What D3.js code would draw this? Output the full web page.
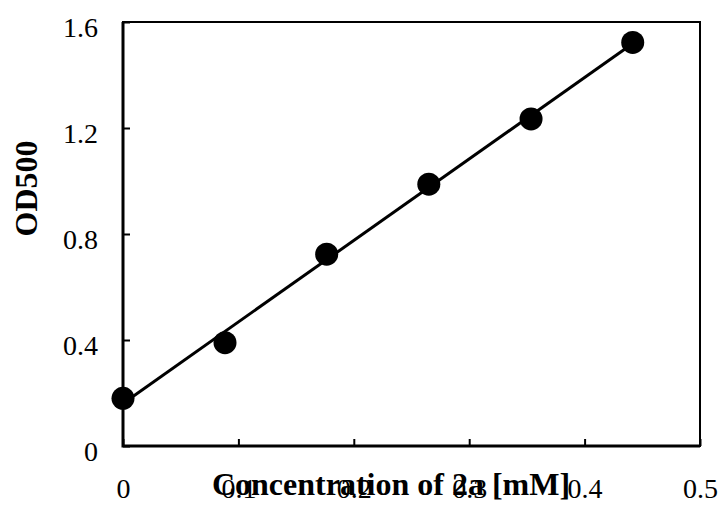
<!DOCTYPE html>
<html>
<head>
<meta charset="utf-8">
<script src="https://cdn.jsdelivr.net/npm/d3@7"></script>
<style>
  body { margin: 0; background: #fff; }
  svg { display: block; font-family: "Liberation Serif", "Times New Roman", serif; }
  .tick text { font-size: 28px; fill: #000; }
  .tick line { stroke: #000; stroke-width: 2; }
</style>
</head>
<body>
<svg width="723" height="506"></svg>
<script>
// measured concentrations (mM) and absorbance
const conc = [0, 0.0884, 0.1765, 0.265, 0.3536, 0.4417];
const od500 = [0.18, 0.39, 0.724, 0.988, 1.234, 1.523];
const xTicks = [0, 0.1, 0.2, 0.3, 0.4, 0.5];
const yTicks = [0, 0.4, 0.8, 1.2, 1.6];

const svg = d3.select("svg");
const plotL = 123, plotR = 700, plotT = 22, plotB = 446;
const serif = '"Liberation Serif", "Times New Roman", serif';

const x = d3.scaleLinear().domain([0, 0.5]).range([plotL, plotR]);
const y = d3.scaleLinear().domain([0, 1.6]).range([plotB, plotT]);
const fmt = d => d === 0 ? "0" : d3.format(".1f")(d);

// y axis, ticks pointing inward
svg.append("g")
  .attr("transform", `translate(${plotL},0)`)
  .call(d3.axisLeft(y).tickValues(yTicks).tickFormat(fmt)
    .tickSizeInner(-7).tickSizeOuter(0).tickPadding(25))
  .attr("font-family", serif)
  .call(g => g.select(".domain").remove())
  .selectAll("text").attr("dy", "0.52em");

svg.append("g")
  .attr("transform", `translate(0,${plotB})`)
  .call(d3.axisBottom(x).tickValues(xTicks).tickFormat(fmt)
    .tickSizeInner(-7).tickSizeOuter(0).tickPadding(32))
  .attr("font-family", serif)
  .call(g => g.select(".domain").remove());

// frame
svg.append("rect")
  .attr("x", plotL).attr("y", plotT)
  .attr("width", plotR - plotL).attr("height", plotB - plotT)
  .attr("fill", "none").attr("stroke", "#000").attr("stroke-width", 2);
svg.append("path")
  .attr("d", `M${plotL},${plotT}V${plotB}H${plotR}`)
  .attr("fill", "none").attr("stroke", "#000").attr("stroke-width", 3);

// least squares trend line
const mx = d3.mean(conc), my = d3.mean(od500);
const slope = d3.sum(conc, (c, i) => (c - mx) * (od500[i] - my)) / d3.sum(conc, c => (c - mx) ** 2);
const icpt = my - slope * mx;
const xr = d3.extent(conc);
svg.append("path")
  .datum(xr)
  .attr("d", d3.line().x(d => x(d)).y(d => y(icpt + slope * d)))
  .attr("stroke", "#000").attr("stroke-width", 3).attr("fill", "none");

svg.append("g").selectAll("circle")
  .data(conc)
  .join("circle")
  .attr("cx", d => x(d))
  .attr("cy", (d, i) => y(od500[i]))
  .attr("r", 11.5)
  .attr("fill", "#000");

svg.append("text")
  .attr("x", 391).attr("y", 495)
  .attr("text-anchor", "middle")
  .attr("font-size", 32).attr("font-weight", "bold")
  .text("Concentration of 2a [mM]");

svg.append("text")
  .attr("transform", "translate(37,188.5) rotate(-90)")
  .attr("text-anchor", "middle")
  .attr("font-size", 32).attr("font-weight", "bold")
  .text("OD500");
</script>
</body>
</html>
